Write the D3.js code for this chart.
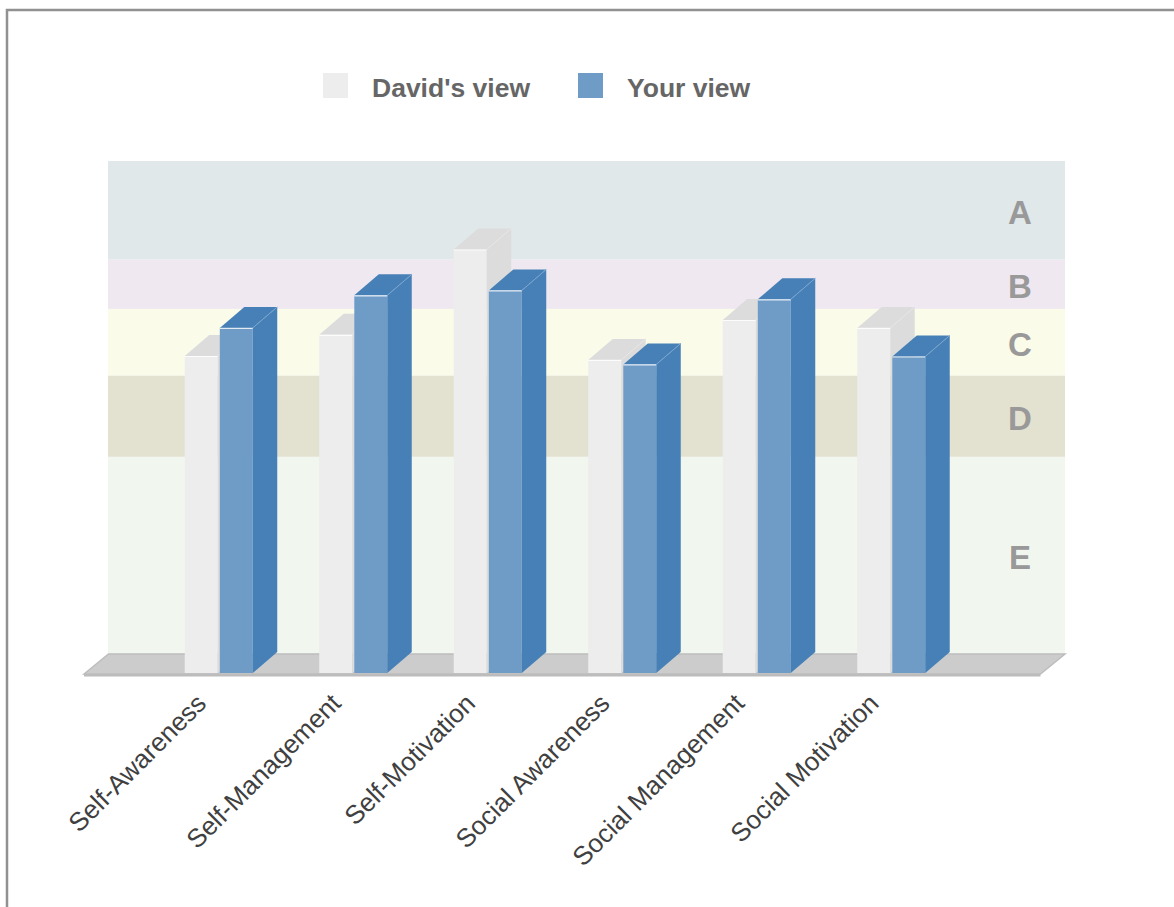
<!DOCTYPE html>
<html>
<head>
<meta charset="utf-8">
<script src="https://cdn.jsdelivr.net/npm/d3@7"></script>
<style>
  html, body { margin: 0; padding: 0; background: #fff; overflow: hidden; }
  text { font-family: "Liberation Sans", Arial, sans-serif; }
</style>
</head>
<body>
<svg id="chart" width="1174" height="907"></svg>
<script>
// chart data
var categories = ["Self-Awareness", "Self-Management", "Self-Motivation",
  "Social Awareness", "Social Management", "Social Motivation"];
var davidView = [64.3, 68.6, 85.9, 63.5, 71.6, 70.0];
var yourView = [70.0, 76.6, 77.6, 62.6, 75.8, 64.2];
var seriesNames = ["David's view", "Your view"];
var bandLabels = ["E", "D", "C", "B", "A"];
var bandBreaks = [0, 40, 56.5, 70, 80, 100];

var frontColors = ["#ededed", "#6e9cc7"];
var darkColors = ["#dcdcdc", "#4680b6"];
var bandColors = ["#f1f7ef", "#e3e2d0", "#fafbe9", "#efe8f0", "#e0e8ea"];

var svg = d3.select("#chart");
var depthX = 24.5, depthY = 21;

// scales
var x = d3.scalePoint().domain(categories).range([218.75, 891.25]);
var xSeries = d3.scaleBand().domain([0, 1]).range([-34, 34]).paddingInner(0.06);
var yWall = d3.scaleLinear().domain([0, 100]).range([654, 161]);
var yBar = d3.scaleLinear().domain([0, 100]).range([673, 180]);

// outer frame
svg.append("rect")
  .attr("x", 7).attr("y", 10)
  .attr("width", 1200).attr("height", 950)
  .attr("fill", "none")
  .attr("stroke", "#919191")
  .attr("stroke-width", 2.5);

// grade bands on back wall
var bands = d3.range(bandLabels.length).map(function (i) {
  return { lo: bandBreaks[i], hi: bandBreaks[i + 1], label: bandLabels[i], color: bandColors[i] };
});
svg.selectAll("rect.band").data(bands).enter().append("rect")
  .attr("class", "band")
  .attr("x", 108).attr("width", 1065 - 108)
  .attr("y", function (d) { return yWall(d.hi); })
  .attr("height", function (d) { return yWall(d.lo) - yWall(d.hi); })
  .attr("fill", function (d) { return d.color; });

svg.selectAll("text.bandlabel").data(bands).enter().append("text")
  .attr("class", "bandlabel")
  .attr("x", 1020)
  .attr("y", function (d) { return (yWall(d.lo) + yWall(d.hi)) / 2 + 2; })
  .attr("dy", "0.36em")
  .attr("text-anchor", "middle")
  .attr("font-size", 33)
  .attr("font-weight", "bold")
  .attr("fill", "#999999")
  .text(function (d) { return d.label; });

// floor
var f0 = yBar(0) + 1, fBack = yWall(0);
svg.append("polygon")
  .attr("points", [[84, f0], [84 + depthX, fBack], [1065, fBack], [1065 - depthX, f0]].join(" "))
  .attr("fill", "#cccccc")
  .attr("stroke", "#bdbdbd")
  .attr("stroke-width", 1.5);
svg.append("rect")
  .attr("x", 84).attr("y", f0)
  .attr("width", 1065 - depthX - 84).attr("height", 2.5)
  .attr("fill", "#bcbcbc");

// bars
var bars = [];
categories.forEach(function (c, i) {
  [davidView[i], yourView[i]].forEach(function (v, s) {
    bars.push({ cat: c, s: s, v: v });
  });
});

var g = svg.selectAll("g.bar").data(bars).enter().append("g").attr("class", "bar");

function barGeom(d) {
  var x0 = x(d.cat) + xSeries(d.s);
  return { x0: x0, x1: x0 + xSeries.bandwidth(), yt: yBar(d.v), yb: yBar(0) };
}

g.append("rect")
  .attr("x", function (d) { return barGeom(d).x0; })
  .attr("y", function (d) { return barGeom(d).yt; })
  .attr("width", xSeries.bandwidth())
  .attr("height", function (d) { var b = barGeom(d); return b.yb - b.yt; })
  .attr("fill", function (d) { return frontColors[d.s]; });

g.append("polygon")
  .attr("points", function (d) {
    var b = barGeom(d);
    return [[b.x0, b.yt], [b.x0 + depthX, b.yt - depthY], [b.x1 + depthX, b.yt - depthY], [b.x1, b.yt]].join(" ");
  })
  .attr("fill", function (d) { return darkColors[d.s]; });

g.append("polygon")
  .attr("points", function (d) {
    var b = barGeom(d);
    return [[b.x1, b.yt], [b.x1 + depthX, b.yt - depthY], [b.x1 + depthX, b.yb - depthY], [b.x1, b.yb]].join(" ");
  })
  .attr("fill", function (d) { return darkColors[d.s]; });

// light edges
g.append("line")
  .attr("x1", function (d) { return barGeom(d).x0; })
  .attr("x2", function (d) { return barGeom(d).x1; })
  .attr("y1", function (d) { return barGeom(d).yt + 0.5; })
  .attr("y2", function (d) { return barGeom(d).yt + 0.5; })
  .attr("stroke", "#ffffff")
  .attr("stroke-opacity", 0.8)
  .attr("stroke-width", 1.2);
g.append("line")
  .attr("x1", function (d) { return barGeom(d).x1; })
  .attr("y1", function (d) { return barGeom(d).yt; })
  .attr("x2", function (d) { return barGeom(d).x1 + depthX; })
  .attr("y2", function (d) { return barGeom(d).yt - depthY; })
  .attr("stroke", function (d) { return d.s ? "#7aa5cf" : "#e6e6e6"; })
  .attr("stroke-width", 1);

// category labels
svg.selectAll("text.cat").data(categories).enter().append("text")
  .attr("class", "cat")
  .attr("transform", function (d) { return "translate(" + (x(d) - 11) + "," + 705 + ") rotate(-45)"; })
  .attr("text-anchor", "end")
  .attr("font-size", 26)
  .attr("fill", "#404040")
  .text(function (d) { return d; });

// legend
var legend = svg.selectAll("g.legend").data(seriesNames).enter().append("g")
  .attr("class", "legend")
  .attr("transform", function (d, i) { return "translate(" + [323, 578][i] + ",73)"; });
legend.append("rect")
  .attr("width", 25).attr("height", 25)
  .attr("fill", function (d, i) { return frontColors[i]; });
legend.append("text")
  .attr("x", 49).attr("y", 23.5)
  .attr("font-size", 26.5)
  .attr("font-weight", "bold")
  .attr("fill", "#666666")
  .text(function (d) { return d; });
</script>
</body>
</html>
